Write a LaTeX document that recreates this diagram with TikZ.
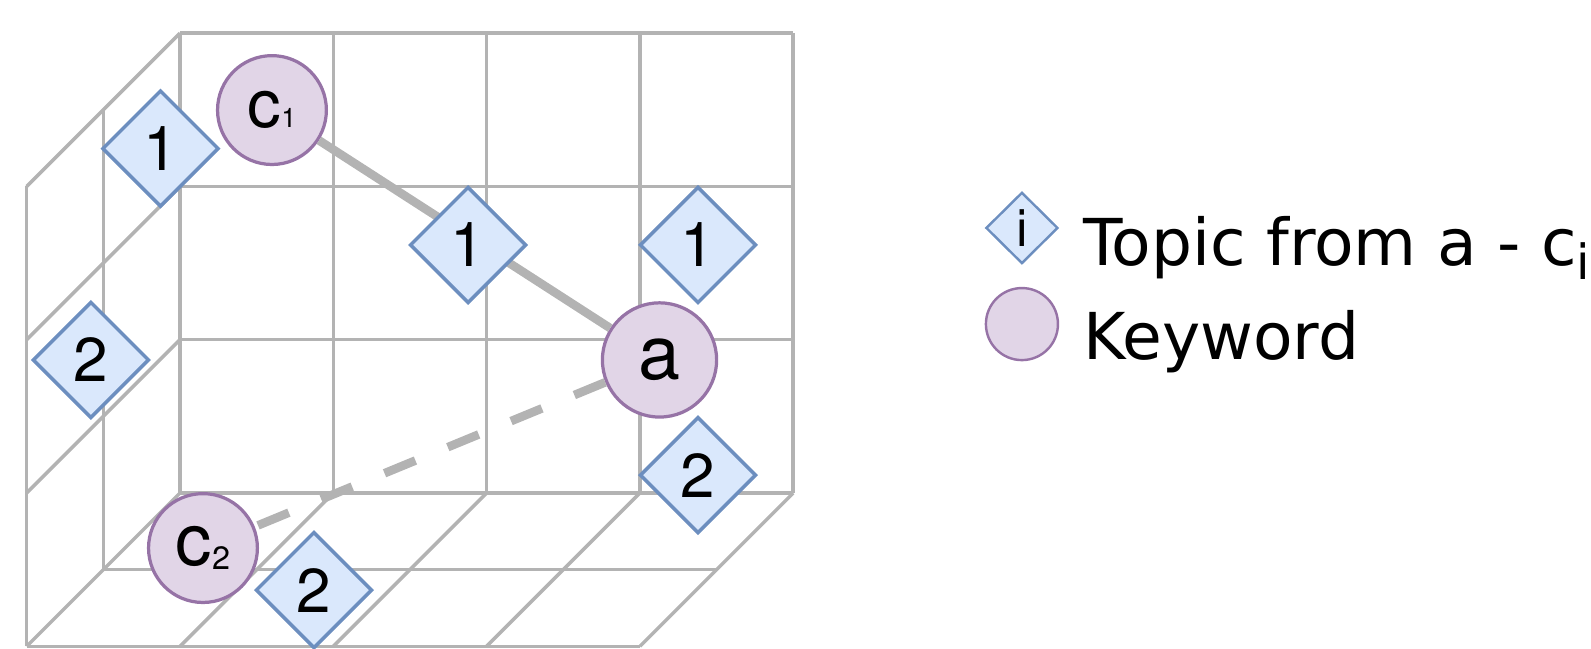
\documentclass[tikz,border=0pt]{standalone}
\usepackage{fontspec}
\setmainfont{TeX Gyre Heros}
\newfontfamily\legendfont{DejaVu Sans}
\usetikzlibrary{shapes.geometric}
\definecolor{gridgray}{HTML}{B3B3B3}
\definecolor{topicfill}{HTML}{DAE8FC}
\definecolor{topicline}{HTML}{6C8EBF}
\definecolor{wordfill}{HTML}{E1D5E7}
\definecolor{wordline}{HTML}{9673A6}
\begin{document}
\begin{tikzpicture}[x=1cm,y=1cm,gridline/.style={draw=gridgray,line width=0.65pt},word/.style={shape=circle,draw=wordline,fill=wordfill,line width=0.6pt,inner sep=0pt,minimum size=0.71cm},wordA/.style={word,minimum size=0.745cm},topic/.style={shape=diamond,draw=topicline,fill=topicfill,line width=0.65pt,inner sep=0pt,minimum width=0.76cm,minimum height=0.76cm,font=\fontsize{11.5}{12}\selectfont},link/.style={draw=gridgray,line width=1.6pt},linkD/.style={link,dash pattern=on 6.2pt off 6.5pt},legend/.style={inner sep=0pt,anchor=base west,font=\legendfont\fontsize{12}{14}\selectfont}]
\def\dd{0.5};
\useasboundingbox (-1.174,-1.011) rectangle (9.204,3.216);

\draw[gridline] (0,0) grid (4,3);
\draw[gridline] (-\dd,-\dd) -- (-\dd,3-\dd) (-2*\dd,-2*\dd) -- (-2*\dd,3-2*\dd);
\draw[gridline] (0,0) -- (-2*\dd,-2*\dd) (0,1) -- (-2*\dd,1-2*\dd) (0,2) -- (-2*\dd,2-2*\dd) (0,3) -- (-2*\dd,3-2*\dd);
\draw[gridline] (-\dd,-\dd) -- (4-\dd,-\dd) (-2*\dd,-2*\dd) -- (4-2*\dd,-2*\dd);
\draw[gridline] (1,0) -- (1-2*\dd,-2*\dd) (2,0) -- (2-2*\dd,-2*\dd) (3,0) -- (3-2*\dd,-2*\dd) (4,0) -- (4-2*\dd,-2*\dd);

\node[word] (c1) at (0.600,2.498) {\fontsize{12.5}{13}\selectfont c\fontsize{5}{5}\selectfont 1};
\node[wordA] (a) at (3.128,0.868) {\fontsize{14}{14}\selectfont a};
\node[word] (c2) at (0.150,-0.359) {\fontsize{13.5}{14}\selectfont c\raisebox{-0.7pt}{\fontsize{6}{6}\selectfont 2}};
\draw[link] (c1) -- (a);
\draw[linkD] (a) -- (c2);

\node[topic] (t1) at (-0.127,2.247) {1};
\node[topic] (t2) at (1.879,1.618) {1};
\node[topic] (t3) at (3.379,1.618) {1};
\node[topic] (t4) at (-0.581,0.868) {2};
\node[topic] (t5) at (0.874,-0.633) {2};
\node[topic] (t6) at (3.379,0.117) {2};

\node[topic,minimum width=0.47cm,minimum height=0.465cm,line width=0.45pt,font=\legendfont\fontsize{9}{9}\selectfont] (keyT) at (5.492,1.729) {i};
\node[word,minimum size=0.47cm,line width=0.45pt] (keyW) at (5.492,1.102) {};
\node[legend] (textT) at (5.884,1.487) {Topic from a - c\raisebox{-2.6pt}{\fontsize{9}{9}\selectfont i}};
\node[legend] (textW) at (5.884,0.868) {Keyword};
\end{tikzpicture}
\end{document}
